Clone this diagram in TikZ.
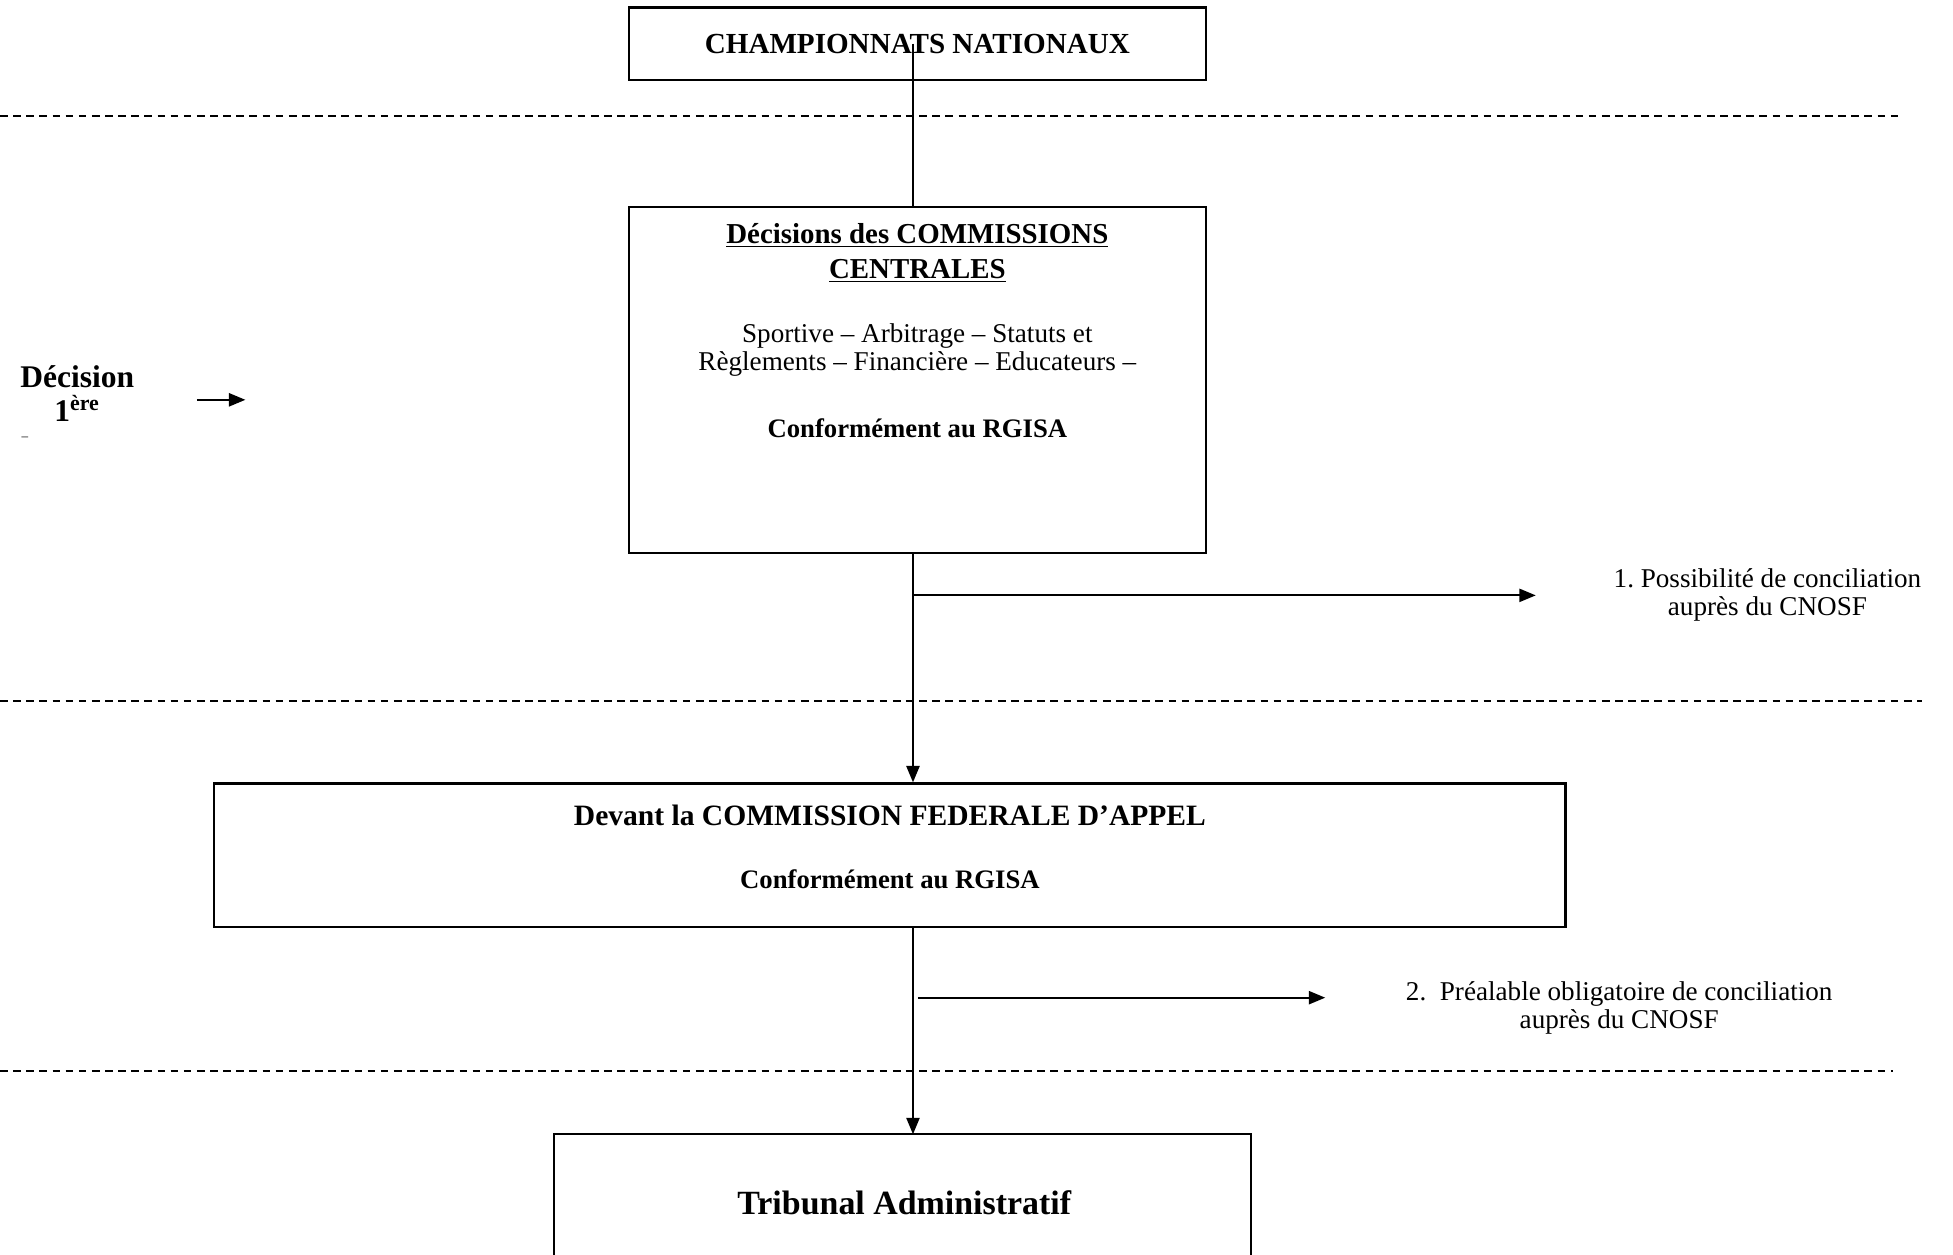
\documentclass[tikz,border=0pt]{standalone}
\usepackage{fontspec}
\setmainfont{Liberation Serif}
\usetikzlibrary{arrows.meta,positioning}

\begin{document}
\begin{tikzpicture}[x=0.02cm, y=-0.02cm,
    box/.style = {draw, line width=1pt, inner sep=0pt},
    bold/.style = {font=\fontsize{12.5}{16}\selectfont\bfseries, align=center, inner sep=0pt},
    plain/.style = {font=\fontsize{12.4}{12.8}\selectfont, align=center, inner sep=0pt},
    arr/.style = {-{Triangle[length=7.5pt,width=6pt]}, line width=0.9pt},
    sep/.style = {dash pattern=on 3.5pt off 2.5pt, line width=0.7pt}]

    \useasboundingbox (0,0) rectangle (1568,1007);

    \node[box, minimum width=9.26cm, minimum height=1.16cm, font=\fontsize{13.3}{15}\selectfont\bfseries] (champ) at (736.5,35) {CHAMPIONNATS NATIONAUX};

    \node[box, minimum width=9.26cm, minimum height=5.56cm] (dec) at (736.5,305) {};
    \node[bold, font=\fontsize{13.2}{16}\selectfont\bfseries] (dectitle) at (736.5,203) {\underline{Décisions des COMMISSIONS}\\\underline{CENTRALES}};
    \node[plain] (declist) at (736.5,281) {Sportive – Arbitrage – Statuts et\\Règlements – Financière – Educateurs –};
    \node[bold, font=\fontsize{12.2}{14}\selectfont\bfseries] (decrgisa) at (736.5,344) {Conformément au RGISA};

    \node[bold, font=\fontsize{14.4}{15.5}\selectfont\bfseries] (first) at (62,316) {Décision\\1\textsuperscript{ère}};
    \node[font=\fontsize{6}{6}\selectfont, inner sep=0pt] (firstdash) at (20,352) {–};
    \coordinate (d1) at (158,321);
    \coordinate (d2) at (197,321);
    \draw[arr] (d1) -- (d2);

    \node[box, minimum width=21.7cm, minimum height=2.3cm] (appel) at (714.5,686.5) {};
    \node[bold, font=\fontsize{13.5}{16}\selectfont\bfseries] (appeltitle) at (714.5,655) {Devant la COMMISSION FEDERALE D’APPEL};
    \node[bold, font=\fontsize{12.2}{14}\selectfont\bfseries] (appelrgisa) at (714.5,706) {Conformément au RGISA};

    \node[minimum width=11.18cm, minimum height=1.92cm, inner sep=0pt] (trib) at (724.5,959) {};
    \draw[line width=1pt] (trib.south west) |- (trib.north east) -- (trib.south east);
    \node[bold, font=\fontsize{15.5}{18}\selectfont\bfseries] (tribtext) at (726,966) {Tribunal Administratif};

    \node[plain] (concil1) at (1419,477.5) {1.\ Possibilité de conciliation\\auprès du CNOSF};
    \node[plain] (concil2) at (1300,809) {2.\ \ Préalable obligatoire de conciliation\\auprès du CNOSF};

    \coordinate (axis) at (733,0);
    \draw[line width=0.9pt] (axis |- champ.center) -- (axis |- dec.north);
    \draw[arr] (axis |- dec.south) -- (axis |- appel.north);
    \draw[arr] (axis |- appel.south) -- (axis |- trib.north);

    \coordinate (b1) at (733,478);
    \coordinate (e1) at (1233,478);
    \draw[arr] (b1) -- (e1);
    \coordinate (b2) at (737,801);
    \coordinate (e2) at (1064,801);
    \draw[arr] (b2) -- (e2);

    \coordinate (s1a) at (0,93);
    \coordinate (s1b) at (1525,93);
    \coordinate (s2a) at (0,563);
    \coordinate (s2b) at (1543,563);
    \coordinate (s3a) at (0,860);
    \coordinate (s3b) at (1520,860);
    \draw[sep] (s1a) -- (s1b);
    \draw[sep] (s2a) -- (s2b);
    \draw[sep] (s3a) -- (s3b);

\end{tikzpicture}
\end{document}
